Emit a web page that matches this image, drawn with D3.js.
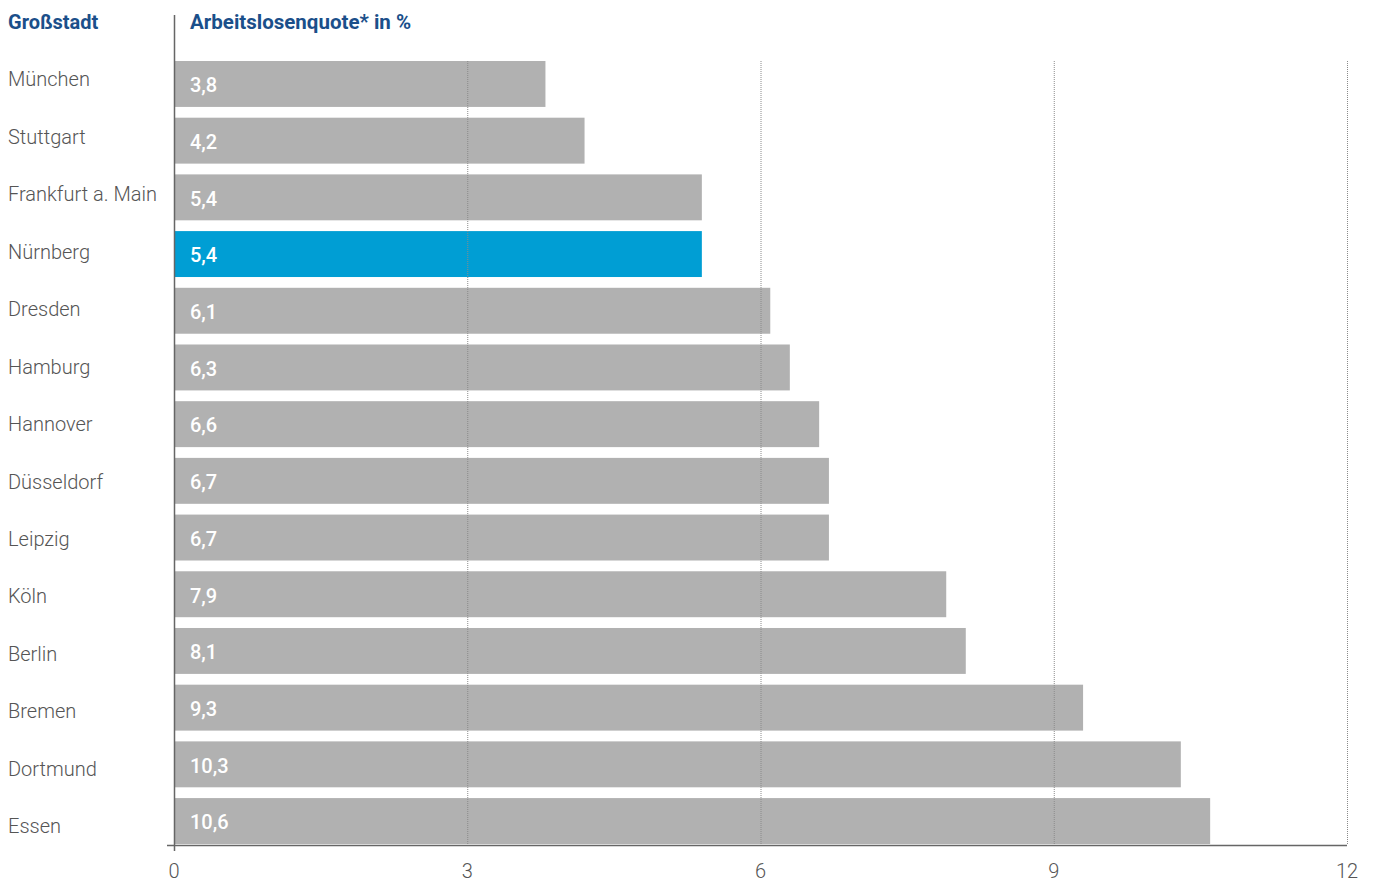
<!DOCTYPE html>
<html>
<head>
<meta charset="utf-8">
<script src="https://cdn.jsdelivr.net/npm/d3@7"></script>
<style>
  body { margin: 0; background: #fff; }
  svg { display: block; font-family: Roboto, 'Noto Sans', sans-serif; }
</style>
</head>
<body>
<div id="chart"></div>
<script>
const cities = ['München', 'Stuttgart', 'Frankfurt a. Main', 'Nürnberg', 'Dresden', 'Hamburg', 'Hannover',
  'Düsseldorf', 'Leipzig', 'Köln', 'Berlin', 'Bremen', 'Dortmund', 'Essen'];
const rates = [3.8, 4.2, 5.4, 5.4, 6.1, 6.3, 6.6, 6.7, 6.7, 7.9, 8.1, 9.3, 10.3, 10.6];
const highlight = 'Nürnberg';
const xTicks = [0, 3, 6, 9, 12];

const width = 1374;
const height = 882;
const plotLeft = 174;
const plotRight = 1347;
const plotTop = 61;
const plotBottom = 845;

const data = cities.map((c, i) => ({ city: c, value: rates[i] }));

const svg = d3.select('#chart')
  .append('svg')
  .attr('width', width)
  .attr('height', height);

const x = d3.scaleLinear().domain([0, 12]).range([plotLeft, plotRight]);

const y = d3.scaleBand()
  .domain(cities)
  .range([plotTop, plotBottom - 1])
  .paddingInner(0.19)
  .paddingOuter(0);

// the city names in the left column sit on a slightly wider step than the bars
const yLabel = d3.scalePoint()
  .domain(cities)
  .range([81, 828]);

const fmt = (v) => d3.format('.1f')(v).replace('.', ',');

// bars
svg.append('g')
  .selectAll('rect')
  .data(data)
  .join('rect')
  .attr('x', x(0))
  .attr('y', (d) => y(d.city))
  .attr('width', (d) => x(d.value) - x(0))
  .attr('height', y.bandwidth())
  .attr('fill', (d) => (d.city === highlight ? '#009ed4' : '#b1b1b1'));

// dotted grid on top of bars
svg.append('g')
  .selectAll('line')
  .data(xTicks.filter((t) => t > 0))
  .join('line')
  .attr('x1', (d) => x(d) + 0.5)
  .attr('x2', (d) => x(d) + 0.5)
  .attr('y1', plotTop)
  .attr('y2', plotBottom)
  .attr('stroke', '#8a8a8a')
  .attr('stroke-width', 1)
  .attr('stroke-dasharray', '1,1');

// value labels inside bars
svg.append('g')
  .selectAll('text')
  .data(data)
  .join('text')
  .attr('x', 190)
  .attr('y', (d) => y(d.city) + y.bandwidth() / 2 + 3)
  .attr('dominant-baseline', 'middle')
  .attr('fill', '#fff')
  .attr('font-size', 20)
  .attr('font-weight', 500)
  .text((d) => fmt(d.value));

// city labels
svg.append('g')
  .selectAll('text')
  .data(data)
  .join('text')
  .attr('x', 8)
  .attr('y', (d) => yLabel(d.city))
  .attr('dominant-baseline', 'middle')
  .attr('fill', '#555')
  .attr('font-size', 20)
  .attr('font-weight', 300)
  .text((d) => d.city);

// axes
svg.append('line')
  .attr('x1', plotLeft + 0.5).attr('x2', plotLeft + 0.5)
  .attr('y1', 15).attr('y2', plotBottom + 6)
  .attr('stroke', '#666').attr('stroke-width', 1.5);

svg.append('line')
  .attr('x1', plotLeft - 7).attr('x2', plotRight)
  .attr('y1', plotBottom + 0.5).attr('y2', plotBottom + 0.5)
  .attr('stroke', '#666').attr('stroke-width', 1.5);

svg.append('g')
  .selectAll('text')
  .data(xTicks)
  .join('text')
  .attr('x', (d) => x(d))
  .attr('y', 873)
  .attr('dominant-baseline', 'middle')
  .attr('text-anchor', 'middle')
  .attr('fill', '#555')
  .attr('font-size', 20)
  .attr('font-weight', 300)
  .text((d) => d);

// headers
svg.append('text')
  .attr('x', 8).attr('y', 29)
  .attr('fill', '#1b4f8a')
  .attr('font-size', 20)
  .attr('font-weight', 700)
  .text('Großstadt');

svg.append('text')
  .attr('x', 190).attr('y', 29)
  .attr('fill', '#1b4f8a')
  .attr('font-size', 20.5)
  .attr('font-weight', 700)
  .text('Arbeitslosenquote* in %');
</script>
</body>
</html>
